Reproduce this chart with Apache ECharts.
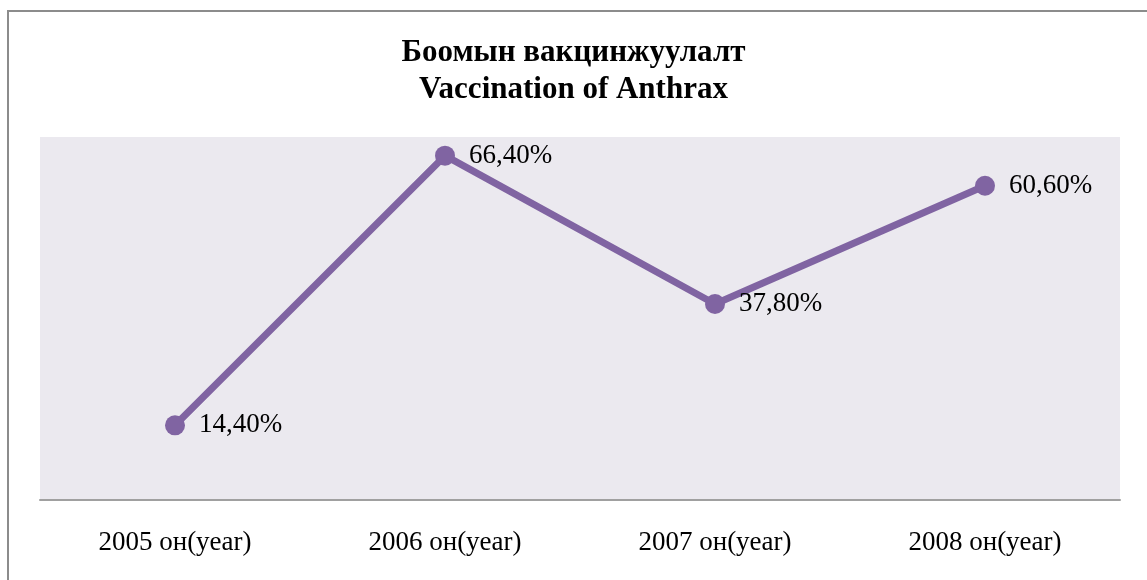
<!DOCTYPE html>
<html>
<head>
<meta charset="utf-8">
<script src="https://cdn.jsdelivr.net/npm/echarts@6/dist/echarts.min.js"></script>
<style>
  html, body { margin: 0; padding: 0; background: #fff; overflow: hidden; }
  #frame { position: absolute; left: 7px; top: 10px; width: 1200px; height: 700px; border: 2px solid #8c8c8c; box-sizing: border-box; }
  #chart { position: absolute; left: 0; top: 0; width: 1147px; height: 580px; }
</style>
</head>
<body>
<div id="frame"></div>
<div id="chart"></div>
<script>
// data
var categories = ['2005 он(year)', '2006 он(year)', '2007 он(year)', '2008 он(year)']
var values = [14.4, 66.4, 37.8, 60.6]
var titleLines = ['Боомын вакцинжуулалт', 'Vaccination of Anthrax']

var chart = echarts.init(document.getElementById('chart'))
chart.setOption({
  animation: false,
  title: {
    text: titleLines.join('\n'),
    left: 'center',
    top: 29,
    textStyle: {
      fontFamily: 'Liberation Serif',
      fontWeight: 'bold',
      fontSize: 31,
      lineHeight: 37,
      color: '#000'
    }
  },
  grid: {
    left: 40,
    right: 27,
    top: 137,
    bottom: 80,
    show: true,
    backgroundColor: '#ebe9ef',
    borderWidth: 0
  },
  xAxis: {
    type: 'category',
    data: categories,
    boundaryGap: true,
    axisLine: { lineStyle: { color: '#a0a0a0', width: 2 } },
    axisTick: { show: false },
    axisLabel: {
      margin: 29,
      fontFamily: 'Liberation Serif',
      fontSize: 27,
      color: '#000'
    }
  },
  yAxis: {
    type: 'value',
    min: 0,
    max: 70,
    show: false,
    splitLine: { show: false }
  },
  series: [{
    type: 'line',
    data: values,
    symbol: 'circle',
    symbolSize: 20,
    lineStyle: { color: '#8064a2', width: 7 },
    itemStyle: { color: '#8064a2' },
    label: {
      show: true,
      position: 'right',
      distance: 14,
      fontFamily: 'Liberation Serif',
      fontSize: 27,
      color: '#000',
      formatter: function (p) {
        return p.value.toFixed(2).replace('.', ',') + '%'
      }
    }
  }]
})
</script>
</body>
</html>
